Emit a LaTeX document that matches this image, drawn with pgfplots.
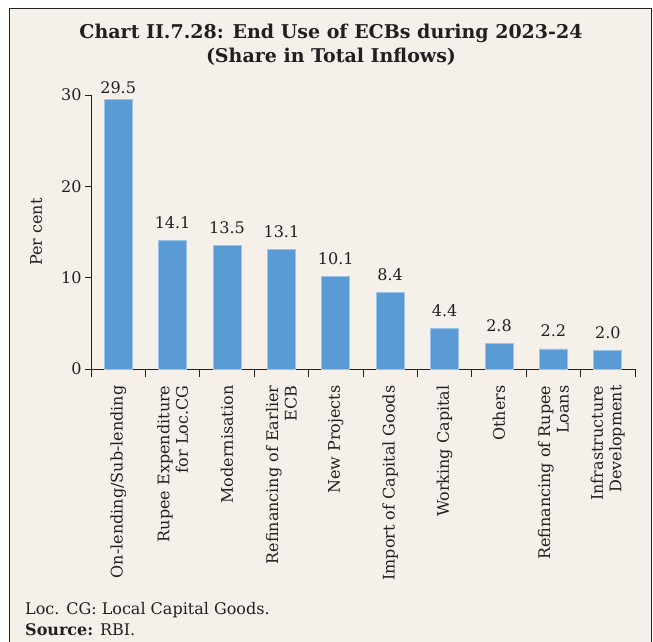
\documentclass[border=0pt]{standalone}
\usepackage{pgfplots}
\pgfplotsset{compat=1.18}
\usepackage{fontspec}
\setmainfont{DejaVu Serif}
\definecolor{bg}{HTML}{F6F0EB}
\definecolor{barblue}{HTML}{5B9BD5}
\definecolor{baredge}{HTML}{9DC3E6}
\definecolor{txt}{HTML}{231F20}
\newcommand{\fs}{\fontsize{16bp}{18.5bp}\selectfont}
\begin{document}
\begin{tikzpicture}
\begin{scope}[x=1bp,y=1bp,shift={(-91bp,369bp)}]
\useasboundingbox (0,0) rectangle (653,-642);
\begin{scope}
\clip (0,0) rectangle (653,-642);
\fill[bg] (9.5,-9) rectangle (651,-660);
\draw[txt, line width=1bp] (9.5,-660) -- (9.5,-9) -- (651,-9) -- (651,-660);
\end{scope}
\node[txt, font=\bfseries\fontsize{19bp}{24bp}\selectfont, align=center] at (331,-45) {Chart II.7.28: End Use of ECBs during 2023-24\\(Share in Total Inflows)};
\node[txt, anchor=base west, inner sep=0pt, font=\fs] at (25,-614) {Loc. CG: Local Capital Goods.};
\node[txt, anchor=base west, inner sep=0pt, font=\fs] at (25,-635) {\textbf{Source:} RBI.};
\end{scope}
\begin{axis}[
  at={(0,0)}, anchor=south west, scale only axis,
  width=544bp, height=274bp,
  xmin=-0.5, xmax=9.5, ymin=0, ymax=30,
  axis x line*=bottom, axis y line*=left,
  axis line style={-, txt, line width=0.8bp},
  ytick={0,10,20,30},
  xtick={0,...,9},
  minor xtick={-0.5,0.5,...,9.5},
  tick align=outside,
  major tick length=6bp, minor tick length=8bp,
  major x tick style={draw=none},
  minor x tick style={txt, line width=0.8bp},
  major y tick style={txt, line width=0.8bp},
  /pgf/number format/assume math mode=true,
  ticklabel style={txt, font=\fs},
  xticklabel style={rotate=90, anchor=east, align=right},
  xticklabel shift=7bp,
  xticklabels={On-lending/Sub-lending, Rupee Expenditure\\for Loc.CG, Modernisation, Refinancing of Earlier\\ECB, New Projects, Import of Capital Goods, Working Capital, Others, Refinancing of Rupee\\Loans, Infrastructure\\Development},
  ylabel={Per cent},
  ylabel style={txt, font=\fs, at={(axis description cs:-0.101,0.5)}, anchor=center},
  ybar, bar width=28bp, bar shift=0pt,
  nodes near coords,
  every node near coord/.append style={txt, font=\fs, /pgf/number format/fixed, /pgf/number format/fixed zerofill, /pgf/number format/precision=1},
  clip=false,
]
\addplot[fill=barblue, draw=baredge, line width=0.8bp, every node near coord/.append style={yshift=2bp}] coordinates {(0,29.5)};
\addplot[fill=barblue, draw=baredge, line width=0.8bp, every node near coord/.append style={yshift=8bp}] coordinates {(1,14.1) (2,13.5) (3,13.1) (4,10.1) (5,8.4) (6,4.4) (7,2.8) (8,2.2) (9,2.0)};
\end{axis}
\end{tikzpicture}
\end{document}
